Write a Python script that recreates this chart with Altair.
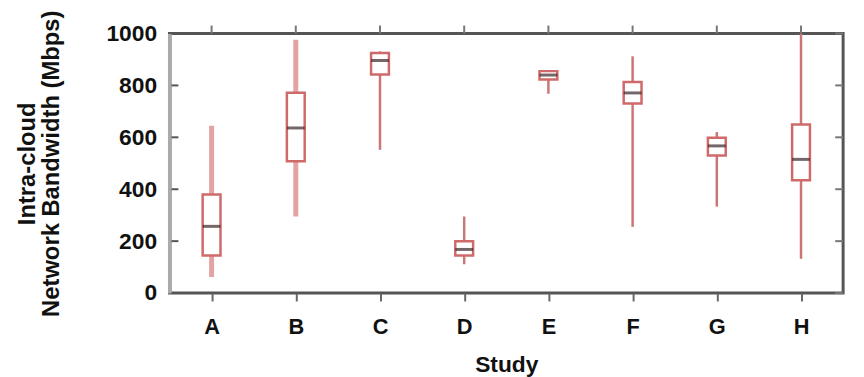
import altair as alt
import pandas as pd

studies = ["A", "B", "C", "D", "E", "F", "G", "H"]
whisk_lo = [62, 295, 552, 111, 768, 255, 333, 132]
q1 = [145, 508, 842, 145, 823, 730, 530, 435]
median = [257, 636, 896, 168, 840, 771, 567, 515]
q3 = [380, 772, 925, 200, 855, 813, 598, 649]
whisk_hi = [645, 976, 931, 295, 855, 912, 620, 1000]
light_studies = ["A", "B"]
y_ticks = [0, 200, 400, 600, 800, 1000]

df = pd.DataFrame({"study": studies, "lo": whisk_lo, "q1": q1,
                   "med": median, "q3": q3, "hi": whisk_hi})
ticks_df = pd.DataFrame({"v": y_ticks})
cats_df = pd.DataFrame({"study": studies})

FONT = "Liberation Sans"
W, H = 680, 262

x = alt.X("study:N", sort=studies,
          scale=alt.Scale(type="point", padding=0.5),
          axis=alt.Axis(title="Study", labelAngle=0, tickSize=8, tickWidth=2,
                        tickColor="#666", domain=False, labelPadding=16,
                        labelFontSize=22, labelFontWeight="bold",
                        titleFontSize=23, titleFontWeight="bold",
                        titlePadding=16, labelFont=FONT, titleFont=FONT,
                        labelColor="#111", titleColor="#111"))
yscale = alt.Scale(domain=[0, 1000], nice=False)
y_axis = alt.Axis(values=y_ticks, format="d", tickSize=0, domainColor="#aaaaaa",
                  domainWidth=4, labelFontSize=23, labelFontWeight="bold",
                  labelFont=FONT, labelColor="#111", labelPadding=13,
                  title=["Intra-cloud", "Network Bandwidth (Mbps)"],
                  titleFont=FONT, titleFontSize=24, titleFontWeight="bold",
                  titleColor="#111", titleAngle=-90, titleX=-143,
                  titleY=H / 2, titleBaseline="middle", titleAlign="center",
                  titleLineHeight=24, grid=False)

base = alt.Chart(df)

whisk_light = base.mark_rule(color="#e4a3a3", strokeWidth=5).encode(
    x=x, y=alt.Y("lo:Q", scale=yscale, axis=y_axis), y2="hi:Q"
).transform_filter(alt.FieldOneOfPredicate(field="study", oneOf=light_studies))

whisk_dark = base.mark_rule(color="#c97676", strokeWidth=2.5).encode(
    x=x, y=alt.Y("lo:Q", scale=yscale, axis=y_axis), y2="hi:Q"
).transform_filter(~alt.FieldOneOfPredicate(field="study", oneOf=light_studies))

box = base.mark_bar(size=18, fill="white", stroke="#d06a6a",
                    strokeWidth=2.5).encode(
    x=x, y=alt.Y("q1:Q", scale=yscale, axis=y_axis), y2="q3:Q")

med = base.mark_tick(size=18, thickness=3, color="#3b2626",
                     orient="horizontal").encode(
    x=x, y=alt.Y("med:Q", scale=yscale, axis=y_axis))

left_ticks = alt.Chart(ticks_df).mark_rule(color="#555", strokeWidth=2).encode(
    y=alt.Y("v:Q", scale=yscale, axis=y_axis), x=alt.value(2), x2=alt.value(9))
right_ticks = alt.Chart(ticks_df).mark_rule(color="#777", strokeWidth=2).encode(
    y=alt.Y("v:Q", scale=yscale, axis=y_axis), x=alt.value(W - 8), x2=alt.value(W))
top_ticks = alt.Chart(cats_df).mark_rule(color="#777", strokeWidth=2).encode(
    x=x, y=alt.value(-8), y2=alt.value(0))

chart = alt.layer(whisk_light, whisk_dark, box, med, left_ticks, right_ticks,
                  top_ticks).properties(
    width=W, height=H,
    autosize=alt.AutoSizeParams(type="none"),
    padding={"left": 163, "top": 24, "right": 13, "bottom": 83},
).configure_view(stroke="#555", strokeWidth=3)

chart.save("out.html", embed_options={"renderer": "svg", "actions": False})
